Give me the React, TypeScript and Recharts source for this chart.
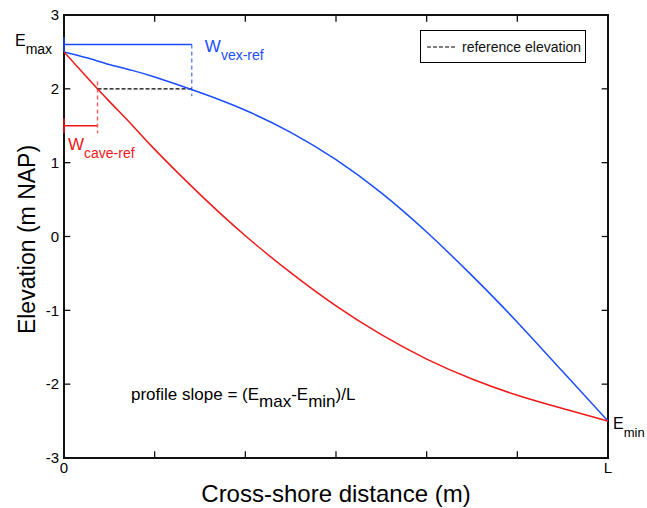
import React from 'react';
import {
  ComposedChart, Line, XAxis, YAxis, ReferenceLine, ReferenceArea, ReferenceDot, Legend,
} from 'recharts';

// cross-shore positions (L = 6 axis units) and the two profile elevations
const DIST = [0, 0.25, 0.5, 0.75, 1, 1.5, 2, 2.5, 3, 3.5, 4, 4.5, 5, 5.5, 6];
const CONVEX = [2.5, 2.42, 2.33, 2.25, 2.16, 1.95, 1.71, 1.41, 1.04, 0.59, 0.06, -0.53, -1.16, -1.83, -2.5];
const CONCAVE = [2.5, 2.16, 1.83, 1.51, 1.18, 0.57, 0.01, -0.49, -0.94, -1.33, -1.66, -1.93, -2.15, -2.33, -2.5];

const X_TICKS = [0, 1, 2, 3, 4, 5, 6];
const Y_TICKS = [-3, -2, -1, 0, 1, 2, 3];

const E_MAX = 2.5;
const E_MIN = -2.5;
const REF_ELEV = 2;
const W_VEX = 1.41;   // where convex profile reaches the reference elevation
const W_CAVE = 0.37;  // where concave profile reaches the reference elevation
const VEX_BAR = 2.6;
const CAVE_BAR = 1.5;

const BLUE = '#1a4dff';
const RED = '#f21818';
const FONT = '"Liberation Sans", Arial, Helvetica, sans-serif';

const convexData = DIST.map((x, i) => ({ x, y: CONVEX[i] }));
const concaveData = DIST.map((x, i) => ({ x, y: CONCAVE[i] }));

const seg = (x1: number, y1: number, x2: number, y2: number) => [{ x: x1, y: y1 }, { x: x2, y: y2 }];

// text placed relative to a data point
const Note = ({ cx, cy, dx = 0, dy = 0, color = '#000', size = 16, anchor = 'start', parts }: any) => (
  <text x={cx + dx} y={cy + dy} fill={color} fontSize={size} textAnchor={anchor} fontFamily={FONT}>
    {parts.map((p: any, i: number) => (
      <tspan key={i} dy={p.dy || 0} fontSize={p.size || size}>{p.t}</tspan>
    ))}
  </text>
);

const LegendBox = () => (
  <div style={{
    boxSizing: 'border-box', width: 166, height: 33, border: '1.5px solid #000', background: '#fff',
    display: 'flex', alignItems: 'center', fontFamily: FONT, fontSize: 14, color: '#111',
  }}>
    <svg width={36} height={10} style={{ marginLeft: 5 }}>
      <line x1={1} y1={5} x2={30} y2={5} stroke="#000" strokeWidth={1.2} strokeDasharray="4 2" />
    </svg>
    <span>reference elevation</span>
  </div>
);

const YLabel = ({ viewBox }: any) => {
  const cx = viewBox.x + viewBox.width / 2 - 5;
  const cy = viewBox.y + viewBox.height / 2 + 3;
  return (
    <text x={cx} y={cy} transform={`rotate(-90, ${cx}, ${cy})`} textAnchor="middle" dominantBaseline="central"
      fontSize={23} fill="#000" fontFamily={FONT}>Elevation (m NAP)</text>
  );
};

export default function App() {
  const xTickLen = 0.09;
  const yTickLen = 0.07;
  return (
    <div style={{ position: 'absolute', left: 0, top: 0, fontFamily: FONT, background: '#fff' }}>
      <ComposedChart width={647} height={508} margin={{ top: 15, right: 39, bottom: 0, left: 0 }}>
        <XAxis type="number" dataKey="x" domain={[0, 6]} ticks={X_TICKS} allowDataOverflow
          tickFormatter={(v: number) => (v === 0 ? '0' : v === 6 ? 'L' : '')}
          axisLine={false} tickLine={false} tickSize={0} tickMargin={4} height={50}
          tick={{ fill: '#000', fontSize: 15 }}
          label={{ value: 'Cross-shore distance (m)', position: 'insideBottom', offset: 6, fill: '#000', fontSize: 24 }} />
        <YAxis type="number" domain={[-3, 3]} ticks={Y_TICKS} allowDataOverflow width={64}
          axisLine={false} tickLine={false} tickSize={0} tickMargin={5}
          tick={{ fill: '#000', fontSize: 15 }}
          label={<YLabel />} />

        {/* axes box */}
        <ReferenceArea x1={0} x2={6} y1={-3} y2={3} fill="none" stroke="#111" strokeWidth={2} fillOpacity={0} />
        {X_TICKS.slice(1, -1).map((t) => (
          <ReferenceLine key={'xb' + t} segment={seg(t, -3, t, -3 + xTickLen)} stroke="#111" strokeWidth={1.3} />
        ))}
        {X_TICKS.slice(1, -1).map((t) => (
          <ReferenceLine key={'xt' + t} segment={seg(t, 3, t, 3 - xTickLen)} stroke="#111" strokeWidth={1.3} />
        ))}
        {Y_TICKS.slice(1, -1).map((t) => (
          <ReferenceLine key={'yl' + t} segment={seg(0, t, yTickLen, t)} stroke="#111" strokeWidth={1.3} />
        ))}
        {Y_TICKS.slice(1, -1).map((t) => (
          <ReferenceLine key={'yr' + t} segment={seg(6, t, 6 - yTickLen, t)} stroke="#111" strokeWidth={1.3} />
        ))}

        {/* width markers */}
        <ReferenceLine segment={seg(0, VEX_BAR, W_VEX, VEX_BAR)} stroke={BLUE} strokeWidth={1.5} />
        <ReferenceLine segment={seg(0, E_MAX, 0, 2.7)} stroke={BLUE} strokeWidth={1.5} />
        <ReferenceLine segment={seg(W_VEX, VEX_BAR, W_VEX, 1.9)} stroke={BLUE} strokeWidth={1} strokeDasharray="4 3" />
        <ReferenceLine segment={seg(W_CAVE, REF_ELEV, W_VEX, REF_ELEV)} stroke="#000" strokeWidth={1.2} strokeDasharray="4 2" />
        <ReferenceLine segment={seg(0, CAVE_BAR, W_CAVE, CAVE_BAR)} stroke={RED} strokeWidth={1.5} />
        <ReferenceLine segment={seg(0, 1.6, 0, 1.4)} stroke={RED} strokeWidth={1.5} />
        <ReferenceLine segment={seg(W_CAVE, 2.1, W_CAVE, 1.4)} stroke="#ff5c5c" strokeWidth={1.4} strokeDasharray="4 3" />

        <Line data={convexData} dataKey="y" type="natural" stroke={BLUE} strokeWidth={1.5} dot={false} isAnimationActive={false} legendType="none" />
        <Line data={concaveData} dataKey="y" type="natural" stroke={RED} strokeWidth={1.5} dot={false} isAnimationActive={false} legendType="none" />

        {/* annotations */}
        <ReferenceDot x={0} y={VEX_BAR} r={0} shape={(p: any) => (
          <Note {...p} dx={-49} dy={1} parts={[{ t: 'E' }, { t: 'max', dy: 8, size: 14 }]} />
        )} />
        <ReferenceDot x={W_VEX} y={VEX_BAR} r={0} shape={(p: any) => (
          <Note {...p} dx={13} dy={7} size={17} color={BLUE} parts={[{ t: 'W' }, { t: 'vex-ref', dy: 8, size: 14 }]} />
        )} />
        <ReferenceDot x={0} y={CAVE_BAR} r={0} shape={(p: any) => (
          <Note {...p} dx={4} dy={24} size={17} color={RED} parts={[{ t: 'W' }, { t: 'cave-ref', dy: 8, size: 14 }]} />
        )} />
        <ReferenceDot x={6} y={E_MIN} r={0} shape={(p: any) => (
          <Note {...p} dx={5} dy={8} parts={[{ t: 'E' }, { t: 'min', dy: 8, size: 13 }]} />
        )} />
        <ReferenceDot x={0.75} y={-2.2} r={0} shape={(p: any) => (
          <Note {...p} dx={-1} dy={1} size={17} parts={[
            { t: 'profile slope = (E' }, { t: 'max', dy: 7 }, { t: '-E', dy: -7 }, { t: 'min', dy: 7 }, { t: ')/L', dy: -7 },
          ]} />
        )} />

        <Legend layout="horizontal" verticalAlign="middle" align="center"
          wrapperStyle={{ position: 'absolute', left: 420, top: 30, width: 166, height: 33 }}
          content={() => <LegendBox />} />
      </ComposedChart>
    </div>
  );
}
